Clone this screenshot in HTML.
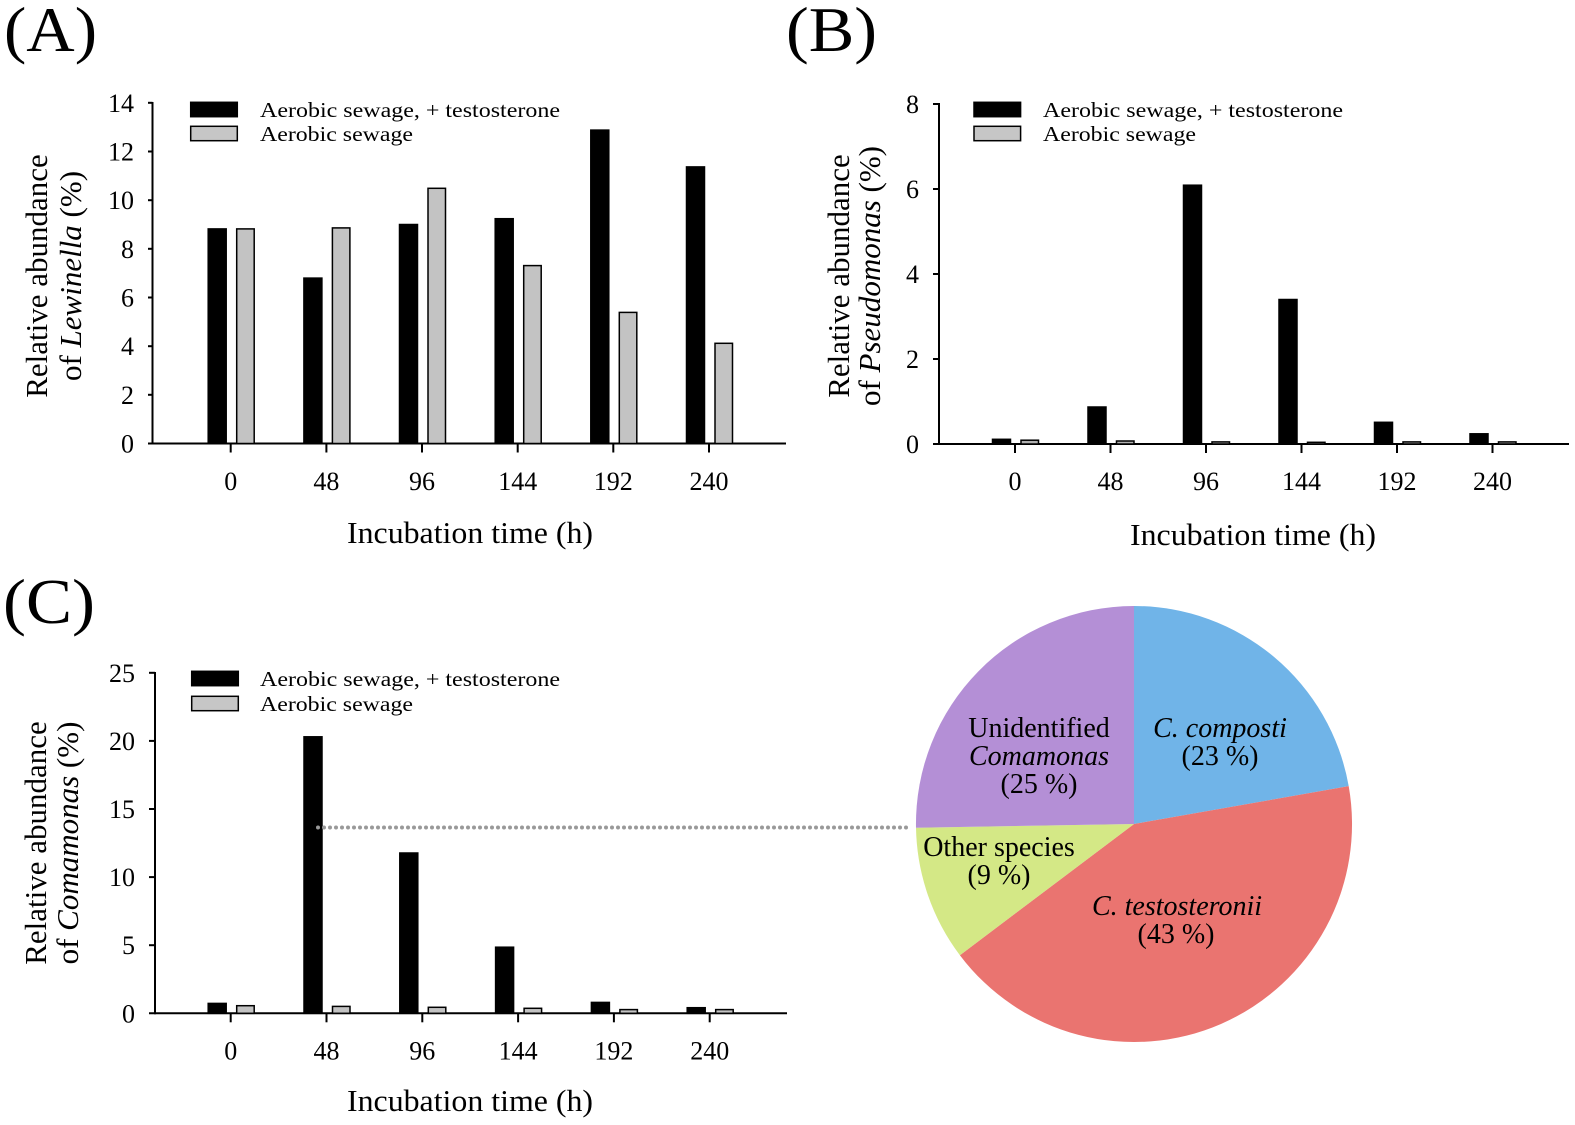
<!DOCTYPE html>
<html><head><meta charset="utf-8">
<style>
html,body{margin:0;padding:0;background:#fff;}
svg{display:block;}
text{font-family:"Liberation Serif","Times New Roman",serif;fill:#000;}
</style></head>
<body>
<svg width="1575" height="1125" viewBox="0 0 1575 1125" xmlns="http://www.w3.org/2000/svg">
<rect width="1575" height="1125" fill="#fff"/>

<!-- Panel letters -->
<text x="4" y="51" font-size="64" textLength="93" lengthAdjust="spacingAndGlyphs">(A)</text>
<text x="786" y="51" font-size="64" textLength="91" lengthAdjust="spacingAndGlyphs">(B)</text>
<text x="3" y="623" font-size="64" textLength="92" lengthAdjust="spacingAndGlyphs">(C)</text>

<!-- ================= PANEL A ================= -->
<g stroke="#000" stroke-width="2" fill="none">
  <line x1="152.5" y1="102" x2="152.5" y2="444.5"/>
  <line x1="148" y1="443.5" x2="786" y2="443.5"/>
  <line x1="148" y1="443.5" x2="152.5" y2="443.5"/>
  <line x1="148" y1="394.8" x2="152.5" y2="394.8"/>
  <line x1="148" y1="346.2" x2="152.5" y2="346.2"/>
  <line x1="148" y1="297.5" x2="152.5" y2="297.5"/>
  <line x1="148" y1="248.8" x2="152.5" y2="248.8"/>
  <line x1="148" y1="200.2" x2="152.5" y2="200.2"/>
  <line x1="148" y1="151.5" x2="152.5" y2="151.5"/>
  <line x1="148" y1="102.8" x2="152.5" y2="102.8"/>
  <line x1="230.7" y1="443.5" x2="230.7" y2="452.5"/>
  <line x1="326.4" y1="443.5" x2="326.4" y2="452.5"/>
  <line x1="422" y1="443.5" x2="422" y2="452.5"/>
  <line x1="517.7" y1="443.5" x2="517.7" y2="452.5"/>
  <line x1="613.3" y1="443.5" x2="613.3" y2="452.5"/>
  <line x1="709" y1="443.5" x2="709" y2="452.5"/>
</g>
<g font-size="26" text-anchor="end">
  <text x="134" y="452.5">0</text>
  <text x="134" y="403.8">2</text>
  <text x="134" y="355.2">4</text>
  <text x="134" y="306.5">6</text>
  <text x="134" y="257.8">8</text>
  <text x="134" y="209.2">10</text>
  <text x="134" y="160.5">12</text>
  <text x="134" y="111.8">14</text>
</g>
<g font-size="26" text-anchor="middle">
  <text x="230.7" y="490">0</text>
  <text x="326.4" y="490">48</text>
  <text x="422" y="490">96</text>
  <text x="517.7" y="490">144</text>
  <text x="613.3" y="490">192</text>
  <text x="709" y="490">240</text>
</g>
<text x="470" y="543" font-size="31" text-anchor="middle" textLength="246" lengthAdjust="spacingAndGlyphs">Incubation time (h)</text>
<text transform="translate(47,276) rotate(-90)" font-size="31" text-anchor="middle">Relative abundance</text>
<text transform="translate(81,276) rotate(-90)" font-size="31" text-anchor="middle">of <tspan font-style="italic">Lewinella</tspan> (%)</text>
<!-- legend A -->
<rect x="190.7" y="102.3" width="46.6" height="14.4" fill="#000" stroke="#000" stroke-width="1.5"/>
<rect x="190.7" y="126.3" width="46.6" height="14.4" fill="#c6c6c6" stroke="#000" stroke-width="1.5"/>
<text x="260" y="117" font-size="21" textLength="300" lengthAdjust="spacingAndGlyphs">Aerobic sewage, + testosterone</text>
<text x="260" y="141" font-size="21" textLength="153" lengthAdjust="spacingAndGlyphs">Aerobic sewage</text>
<!-- bars A -->
<g fill="#000" stroke="#000" stroke-width="1.5">
  <rect x="208.2" y="228.9" width="18" height="214.6"/>
  <rect x="303.9" y="278.1" width="18" height="165.4"/>
  <rect x="399.5" y="224.5" width="18" height="219"/>
  <rect x="495.2" y="218.7" width="18" height="224.8"/>
  <rect x="590.8" y="130.1" width="18" height="313.4"/>
  <rect x="686.5" y="166.9" width="18" height="276.6"/>
</g>
<g fill="#c3c3c3" stroke="#000" stroke-width="1.5">
  <rect x="236.7" y="228.9" width="17.5" height="214.6"/>
  <rect x="332.4" y="227.9" width="17.5" height="215.6"/>
  <rect x="428" y="188.3" width="17.5" height="255.2"/>
  <rect x="523.7" y="265.6" width="17.5" height="177.9"/>
  <rect x="619.3" y="312.4" width="17.5" height="131.1"/>
  <rect x="715" y="343.3" width="17.5" height="100.2"/>
</g>

<!-- ================= PANEL B ================= -->
<g stroke="#000" stroke-width="2" fill="none">
  <line x1="939" y1="103" x2="939" y2="445"/>
  <line x1="933" y1="444" x2="1569" y2="444"/>
  <line x1="933" y1="359" x2="939" y2="359"/>
  <line x1="933" y1="274" x2="939" y2="274"/>
  <line x1="933" y1="189" x2="939" y2="189"/>
  <line x1="933" y1="104" x2="939" y2="104"/>
  <line x1="1015" y1="444" x2="1015" y2="453"/>
  <line x1="1110.5" y1="444" x2="1110.5" y2="453"/>
  <line x1="1206" y1="444" x2="1206" y2="453"/>
  <line x1="1301.5" y1="444" x2="1301.5" y2="453"/>
  <line x1="1397" y1="444" x2="1397" y2="453"/>
  <line x1="1492.5" y1="444" x2="1492.5" y2="453"/>
</g>
<g font-size="26" text-anchor="end">
  <text x="919" y="453">0</text>
  <text x="919" y="368">2</text>
  <text x="919" y="283">4</text>
  <text x="919" y="198">6</text>
  <text x="919" y="113">8</text>
</g>
<g font-size="26" text-anchor="middle">
  <text x="1015" y="490">0</text>
  <text x="1110.5" y="490">48</text>
  <text x="1206" y="490">96</text>
  <text x="1301.5" y="490">144</text>
  <text x="1397" y="490">192</text>
  <text x="1492.5" y="490">240</text>
</g>
<text x="1253" y="545" font-size="31" text-anchor="middle" textLength="246" lengthAdjust="spacingAndGlyphs">Incubation time (h)</text>
<text transform="translate(849,276) rotate(-90)" font-size="31" text-anchor="middle">Relative abundance</text>
<text transform="translate(880,276) rotate(-90)" font-size="31" text-anchor="middle">of <tspan font-style="italic">Pseudomonas</tspan> (%)</text>
<!-- legend B -->
<rect x="974" y="102.3" width="46.6" height="14.4" fill="#000" stroke="#000" stroke-width="1.5"/>
<rect x="974" y="126.3" width="46.6" height="14.4" fill="#c6c6c6" stroke="#000" stroke-width="1.5"/>
<text x="1043" y="117" font-size="21" textLength="300" lengthAdjust="spacingAndGlyphs">Aerobic sewage, + testosterone</text>
<text x="1043" y="141" font-size="21" textLength="153" lengthAdjust="spacingAndGlyphs">Aerobic sewage</text>
<!-- bars B -->
<g fill="#000" stroke="#000" stroke-width="1.5">
  <rect x="992.5" y="439.3" width="18" height="4.7"/>
  <rect x="1088" y="407" width="18" height="37"/>
  <rect x="1183.5" y="185.2" width="18" height="258.8"/>
  <rect x="1279" y="299.5" width="18" height="144.5"/>
  <rect x="1374.5" y="422.3" width="18" height="21.7"/>
  <rect x="1470" y="433.8" width="18" height="10.2"/>
</g>
<g fill="#b0b0b0" stroke="#000" stroke-width="1.5">
  <rect x="1021" y="440.2" width="17.5" height="3.8"/>
  <rect x="1116.5" y="441" width="17.5" height="3"/>
  <rect x="1212" y="441.9" width="17.5" height="2.1"/>
  <rect x="1307.5" y="442.3" width="17.5" height="1.7"/>
  <rect x="1403" y="441.9" width="17.5" height="2.1"/>
  <rect x="1498.5" y="441.9" width="17.5" height="2.1"/>
</g>

<!-- ================= PANEL C ================= -->
<g stroke="#000" stroke-width="2" fill="none">
  <line x1="155" y1="672" x2="155" y2="1014.3"/>
  <line x1="149" y1="1013.3" x2="787" y2="1013.3"/>
  <line x1="149" y1="945.2" x2="155" y2="945.2"/>
  <line x1="149" y1="877.1" x2="155" y2="877.1"/>
  <line x1="149" y1="809" x2="155" y2="809"/>
  <line x1="149" y1="740.9" x2="155" y2="740.9"/>
  <line x1="149" y1="672.8" x2="155" y2="672.8"/>
  <line x1="230.7" y1="1013.3" x2="230.7" y2="1022.3"/>
  <line x1="326.5" y1="1013.3" x2="326.5" y2="1022.3"/>
  <line x1="422.3" y1="1013.3" x2="422.3" y2="1022.3"/>
  <line x1="518.1" y1="1013.3" x2="518.1" y2="1022.3"/>
  <line x1="613.9" y1="1013.3" x2="613.9" y2="1022.3"/>
  <line x1="709.7" y1="1013.3" x2="709.7" y2="1022.3"/>
</g>
<g font-size="26" text-anchor="end">
  <text x="135" y="1022.3">0</text>
  <text x="135" y="954.2">5</text>
  <text x="135" y="886.1">10</text>
  <text x="135" y="818">15</text>
  <text x="135" y="749.9">20</text>
  <text x="135" y="681.8">25</text>
</g>
<g font-size="26" text-anchor="middle">
  <text x="230.7" y="1059.5">0</text>
  <text x="326.5" y="1059.5">48</text>
  <text x="422.3" y="1059.5">96</text>
  <text x="518.1" y="1059.5">144</text>
  <text x="613.9" y="1059.5">192</text>
  <text x="709.7" y="1059.5">240</text>
</g>
<text x="470" y="1111" font-size="31" text-anchor="middle" textLength="246" lengthAdjust="spacingAndGlyphs">Incubation time (h)</text>
<text transform="translate(46,843) rotate(-90)" font-size="31" text-anchor="middle">Relative abundance</text>
<text transform="translate(78,843) rotate(-90)" font-size="31" text-anchor="middle">of <tspan font-style="italic">Comamonas</tspan> (%)</text>
<!-- legend C -->
<rect x="191.7" y="671.3" width="46.6" height="14.4" fill="#000" stroke="#000" stroke-width="1.5"/>
<rect x="191.7" y="696.3" width="46.6" height="14.4" fill="#c6c6c6" stroke="#000" stroke-width="1.5"/>
<text x="260" y="686" font-size="21" textLength="300" lengthAdjust="spacingAndGlyphs">Aerobic sewage, + testosterone</text>
<text x="260" y="711" font-size="21" textLength="153" lengthAdjust="spacingAndGlyphs">Aerobic sewage</text>
<!-- bars C -->
<g fill="#000" stroke="#000" stroke-width="1.5">
  <rect x="208.2" y="1003.4" width="18" height="9.9"/>
  <rect x="304" y="736.8" width="18" height="276.5"/>
  <rect x="399.8" y="853" width="18" height="160.3"/>
  <rect x="495.6" y="947.2" width="18" height="66.1"/>
  <rect x="591.4" y="1002.4" width="18" height="10.9"/>
  <rect x="687.2" y="1007.7" width="18" height="5.6"/>
</g>
<g fill="#c3c3c3" stroke="#000" stroke-width="1.5">
  <rect x="236.7" y="1005.7" width="17.5" height="7.6"/>
  <rect x="332.5" y="1006.4" width="17.5" height="6.9"/>
  <rect x="428.3" y="1007.3" width="17.5" height="6"/>
  <rect x="524.1" y="1008.3" width="17.5" height="5"/>
  <rect x="619.9" y="1009.6" width="17.5" height="3.7"/>
  <rect x="715.7" y="1009.6" width="17.5" height="3.7"/>
</g>

<!-- dotted connector -->
<line x1="318" y1="827.5" x2="911" y2="827.5" stroke="#999" stroke-width="4" stroke-linecap="round" stroke-dasharray="0 6"/>

<!-- ================= PIE ================= -->
<path d="M1134,824 L1134,606 A218,218 0 0 1 1348.7,786.1 Z" fill="#70b4e8"/>
<path d="M1134,824 L1348.7,786.1 A218,218 0 0 1 959.9,955.2 Z" fill="#ea7470"/>
<path d="M1134,824 L959.9,955.2 A218,218 0 0 1 916,827.8 Z" fill="#d4e886"/>
<path d="M1134,824 L916,827.8 A218,218 0 0 1 1134,606 Z" fill="#b48fd6"/>

<g font-size="28" text-anchor="middle">
  <text x="1039" y="737">Unidentified</text>
  <text x="1039" y="765" font-style="italic">Comamonas</text>
  <text x="1039" y="793">(25 %)</text>
  <text x="1220" y="737" font-style="italic">C. composti</text>
  <text x="1220" y="765">(23 %)</text>
  <text x="999" y="856">Other species</text>
  <text x="999" y="884">(9 %)</text>
  <text x="1177" y="915" font-style="italic">C. testosteronii</text>
  <text x="1176" y="943">(43 %)</text>
</g>
</svg>
</body></html>
